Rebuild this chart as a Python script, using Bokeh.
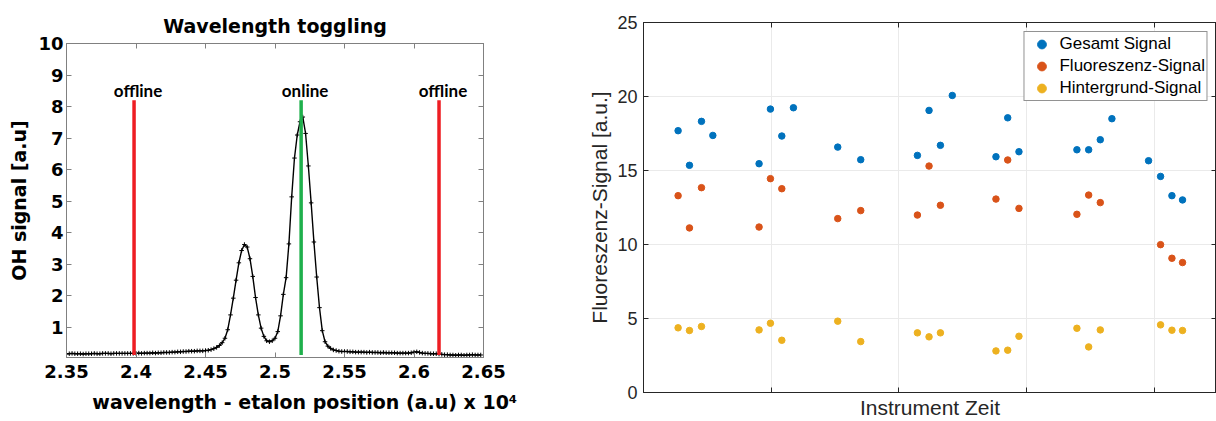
from bokeh.plotting import figure
from bokeh.layouts import row, column
from bokeh.models import FixedTicker, LinearAxis, Range1d
from bokeh.embed import file_html
from bokeh.resources import INLINE
from bokeh.core.properties import value

# ---- Etalon scan: position (x 10^4) and OH signal [a.u] ----
scan_pos = [
    2.350, 2.352, 2.354, 2.356, 2.358, 2.360, 2.362, 2.364, 2.366, 2.368,
    2.370, 2.372, 2.374, 2.376, 2.378, 2.380, 2.382, 2.384, 2.386, 2.388,
    2.390, 2.392, 2.394, 2.396, 2.398, 2.400, 2.402, 2.404, 2.406, 2.408,
    2.410, 2.412, 2.414, 2.416, 2.418, 2.420, 2.422, 2.424, 2.426, 2.428,
    2.430, 2.432, 2.434, 2.436, 2.438, 2.440, 2.442, 2.444, 2.446, 2.448,
    2.450, 2.452, 2.454, 2.456, 2.458, 2.460, 2.462, 2.464, 2.466, 2.468,
    2.470, 2.472, 2.474, 2.476, 2.478, 2.480, 2.482, 2.484, 2.486, 2.488,
    2.490, 2.492, 2.494, 2.496, 2.498, 2.500, 2.502, 2.504, 2.506, 2.508,
    2.510, 2.512, 2.514, 2.516, 2.518, 2.520, 2.522, 2.524, 2.526, 2.528,
    2.530, 2.532, 2.534, 2.536, 2.538, 2.540, 2.542, 2.544, 2.546, 2.548,
    2.550, 2.552, 2.554, 2.556, 2.558, 2.560, 2.562, 2.564, 2.566, 2.568,
    2.570, 2.572, 2.574, 2.576, 2.578, 2.580, 2.582, 2.584, 2.586, 2.588,
    2.590, 2.592, 2.594, 2.596, 2.598, 2.600, 2.602, 2.604, 2.606, 2.608,
    2.610, 2.612, 2.614, 2.616, 2.618, 2.620, 2.622, 2.624, 2.626, 2.628,
    2.630, 2.632, 2.634, 2.636, 2.638, 2.640, 2.642, 2.644, 2.646, 2.648,
]
oh_signal = [
    0.17, 0.17, 0.18, 0.17, 0.17, 0.17, 0.16, 0.17, 0.17, 0.17,
    0.18, 0.17, 0.17, 0.18, 0.18, 0.18, 0.17, 0.18, 0.18, 0.18,
    0.18, 0.18, 0.18, 0.18, 0.18, 0.18, 0.19, 0.18, 0.19, 0.19,
    0.19, 0.20, 0.19, 0.20, 0.20, 0.21, 0.21, 0.21, 0.22, 0.22,
    0.23, 0.23, 0.24, 0.24, 0.25, 0.25, 0.25, 0.26, 0.26, 0.26,
    0.27, 0.28, 0.30, 0.33, 0.37, 0.43, 0.52, 0.66, 0.93, 1.40,
    1.93, 2.50, 3.05, 3.44, 3.63, 3.55, 3.18, 2.62, 1.95, 1.40,
    0.98, 0.72, 0.58, 0.55, 0.58, 0.66, 0.87, 1.37, 2.05, 2.58,
    3.65, 5.14, 6.37, 7.10, 7.52, 7.67, 7.15, 6.12, 4.95, 3.71,
    2.60, 1.63, 0.90, 0.55, 0.41, 0.34, 0.29, 0.27, 0.25, 0.24,
    0.24, 0.24, 0.23, 0.23, 0.22, 0.22, 0.22, 0.22, 0.21, 0.22,
    0.21, 0.21, 0.21, 0.20, 0.21, 0.20, 0.20, 0.20, 0.20, 0.19,
    0.19, 0.19, 0.19, 0.19, 0.20, 0.22, 0.23, 0.21, 0.19, 0.18,
    0.18, 0.17, 0.17, 0.17, 0.16, 0.15, 0.14, 0.14, 0.13, 0.13,
    0.12, 0.13, 0.13, 0.12, 0.13, 0.13, 0.14, 0.13, 0.13, 0.13,
]

# Etalon positions used while toggling the wavelength
toggle_pos = [2.3986, 2.5188, 2.6180]
toggle_name = ["offline", "online", "offline"]
toggle_color = ["#ee1d23", "#1fb04c", "#ee1d23"]
toggle_top = 8.2
toggle_bottom = 0.13

scan_x_ticks = [2.35, 2.4, 2.45, 2.5, 2.55, 2.6, 2.65]
scan_x_labels = ["2.35", "2.4", "2.45", "2.5", "2.55", "2.6", "2.65"]
scan_y_ticks = [1, 2, 3, 4, 5, 6, 7, 8, 9, 10]

# ---- Instrument time series ----
t_total = [0.271, 0.360, 0.454, 0.543, 0.905, 0.994, 1.083, 1.174, 1.521, 1.701,
           2.145, 2.236, 2.325, 2.418, 2.760, 2.852, 2.940, 3.394, 3.486, 3.577,
           3.668, 3.955, 4.049, 4.138, 4.221]
s_total = [17.69, 15.35, 18.32, 17.37, 15.46, 19.15, 17.33, 19.24, 16.58, 15.73,
           16.02, 19.06, 16.70, 20.07, 15.93, 18.56, 16.27, 16.40, 16.40, 17.08,
           18.50, 15.66, 14.60, 13.30, 13.01]
t_fluo = [0.271, 0.360, 0.454, 0.905, 0.994, 1.083, 1.521, 1.701, 2.145, 2.236,
          2.325, 2.760, 2.852, 2.940, 3.394, 3.486, 3.577, 4.049, 4.138, 4.221]
s_fluo = [13.30, 11.12, 13.84, 11.18, 14.45, 13.77, 11.75, 12.29, 11.99, 15.30,
          12.65, 13.07, 15.71, 12.44, 12.04, 13.34, 12.83, 9.99, 9.07, 8.78]
t_bg = [0.271, 0.360, 0.454, 0.905, 0.994, 1.083, 1.521, 1.701, 2.145, 2.236,
        2.325, 2.760, 2.852, 2.940, 3.394, 3.486, 3.577, 4.049, 4.138, 4.221]
s_bg = [4.37, 4.19, 4.46, 4.23, 4.68, 3.53, 4.82, 3.44, 4.03, 3.76,
        4.03, 2.81, 2.86, 3.80, 4.34, 3.08, 4.23, 4.57, 4.21, 4.19]

time_ticks = [1, 2, 3, 4]
signal_ticks = [0, 5, 10, 15, 20, 25]

BOLD_FONT = "DejaVu Sans"
AX_GREY = "#808080"
NBSP = "\u00a0"

# ================= left: wavelength scan =================
left = figure(width=560, height=421, output_backend="svg", toolbar_location=None,
              x_range=Range1d(2.35, 2.65), y_range=Range1d(0.05, 10),
              min_border_left=66, min_border_right=77, min_border_top=43,
              min_border_bottom=64)
left.grid.visible = False
left.outline_line_color = AX_GREY
left.outline_line_width = 1

left.title.text = "Wavelength toggling"
left.title.align = "center"
left.title.text_font = BOLD_FONT
left.title.text_font_style = "bold"
left.title.text_font_size = "19px"
left.title.text_color = "black"
left.title.standoff = 14

def style_scan_axis(ax, ticks):
    ax.ticker = FixedTicker(ticks=ticks)
    ax.axis_line_color = AX_GREY
    ax.major_tick_line_color = AX_GREY
    ax.major_tick_in = 5
    ax.major_tick_out = 0
    ax.minor_tick_in = 0
    ax.minor_tick_out = 0
    ax.major_label_text_font = BOLD_FONT
    ax.major_label_text_font_style = "bold"
    ax.major_label_text_font_size = "18px"
    ax.major_label_text_color = "black"
    ax.axis_label_text_font = BOLD_FONT
    ax.axis_label_text_font_style = "bold"
    ax.axis_label_text_font_size = "19px"
    ax.axis_label_text_color = "black"

xa = left.xaxis[0]
style_scan_axis(xa, scan_x_ticks)
xa.major_label_overrides = dict(zip(scan_x_ticks, scan_x_labels))
xa.major_label_standoff = 7
# the multiplier sits to the right of the centred label text
xa.axis_label = NBSP * 9 + "wavelength - etalon position (a.u) x 10\u2074"
xa.axis_label_standoff = 10

ya = left.yaxis[0]
style_scan_axis(ya, scan_y_ticks)
ya.major_label_standoff = 3
ya.axis_label = "OH signal [a.u]"
ya.axis_label_standoff = 5

for side, ticks in (("right", scan_y_ticks), ("above", scan_x_ticks)):
    ax = LinearAxis()
    style_scan_axis(ax, ticks)
    ax.major_label_text_font_size = "0px"
    ax.major_label_standoff = 0
    left.add_layout(ax, side)

left.line(scan_pos, oh_signal, line_color="black", line_width=1.4)
left.scatter(scan_pos, oh_signal, marker="cross", size=4.5, line_color="black",
             line_width=1)

left.segment(x0=toggle_pos, y0=[toggle_bottom] * 3, x1=toggle_pos,
             y1=[toggle_top] * 3, line_color=toggle_color, line_width=3.5)
left.text(x=toggle_pos, y=[toggle_top + 0.3] * 3, text=toggle_name,
          x_offset=4, text_align="center", text_baseline="alphabetic",
          text_font=value("Lato"), text_font_style="bold",
          text_font_size="17px", text_color="black")

# ================= right: instrument signals =================
DARK = "#262626"
right = figure(width=656, height=421, output_backend="svg", toolbar_location=None,
               x_range=Range1d(0, 4.487), y_range=Range1d(0, 25),
               min_border_left=83, min_border_right=0, min_border_top=22,
               min_border_bottom=28)
right.outline_line_color = DARK
right.outline_line_width = 1

def style_time_axis(ax, ticks):
    ax.ticker = FixedTicker(ticks=ticks)
    ax.axis_line_color = DARK
    ax.major_tick_line_color = DARK
    ax.major_tick_in = 5
    ax.major_tick_out = 0
    ax.minor_tick_in = 0
    ax.minor_tick_out = 0
    ax.major_label_text_font = "Liberation Sans"
    ax.major_label_text_font_size = "18px"
    ax.major_label_text_color = DARK
    ax.axis_label_text_font = "Liberation Sans"
    ax.axis_label_text_font_style = "normal"
    ax.axis_label_text_font_size = "21px"
    ax.axis_label_text_color = DARK

rx = right.xaxis[0]
style_time_axis(rx, time_ticks)
rx.major_label_text_font_size = "0px"
rx.major_label_standoff = 0
rx.axis_label = "Instrument Zeit"
rx.axis_label_standoff = 3

ry = right.yaxis[0]
style_time_axis(ry, signal_ticks)
ry.major_label_standoff = 6
ry.axis_label = "Fluoreszenz-Signal [a.u.]"
ry.axis_label_standoff = 3

for side, ticks in (("right", signal_ticks), ("above", time_ticks)):
    ax = LinearAxis()
    style_time_axis(ax, ticks)
    ax.major_label_text_font_size = "0px"
    ax.major_label_standoff = 0
    right.add_layout(ax, side)

right.xgrid.ticker = FixedTicker(ticks=time_ticks)
right.ygrid.ticker = FixedTicker(ticks=signal_ticks)
right.grid.grid_line_color = "#eaeaea"
right.grid.grid_line_width = 1

right.scatter(t_total, s_total, size=6.5, color="#0072BD",
              legend_label="Gesamt Signal")
right.scatter(t_fluo, s_fluo, size=6.5, color="#D95319",
              legend_label="Fluoreszenz-Signal")
right.scatter(t_bg, s_bg, size=6.5, color="#EDB120",
              legend_label="Hintergrund-Signal")

lg = right.legend[0]
lg.location = "top_right"
lg.margin = 9
lg.padding = 1
lg.spacing = 0
lg.label_height = 22
lg.glyph_height = 22
lg.glyph_width = 32
lg.label_standoff = 2
lg.label_text_font = "Liberation Sans"
lg.label_text_font_size = "17px"
lg.label_text_color = "black"
lg.border_line_color = DARK
lg.border_line_width = 1
lg.background_fill_color = "white"
lg.background_fill_alpha = 1

# each panel keeps its own frame geometry
layout = row(column(left), column(right))
open("out.html", "w").write(file_html(layout, INLINE))
